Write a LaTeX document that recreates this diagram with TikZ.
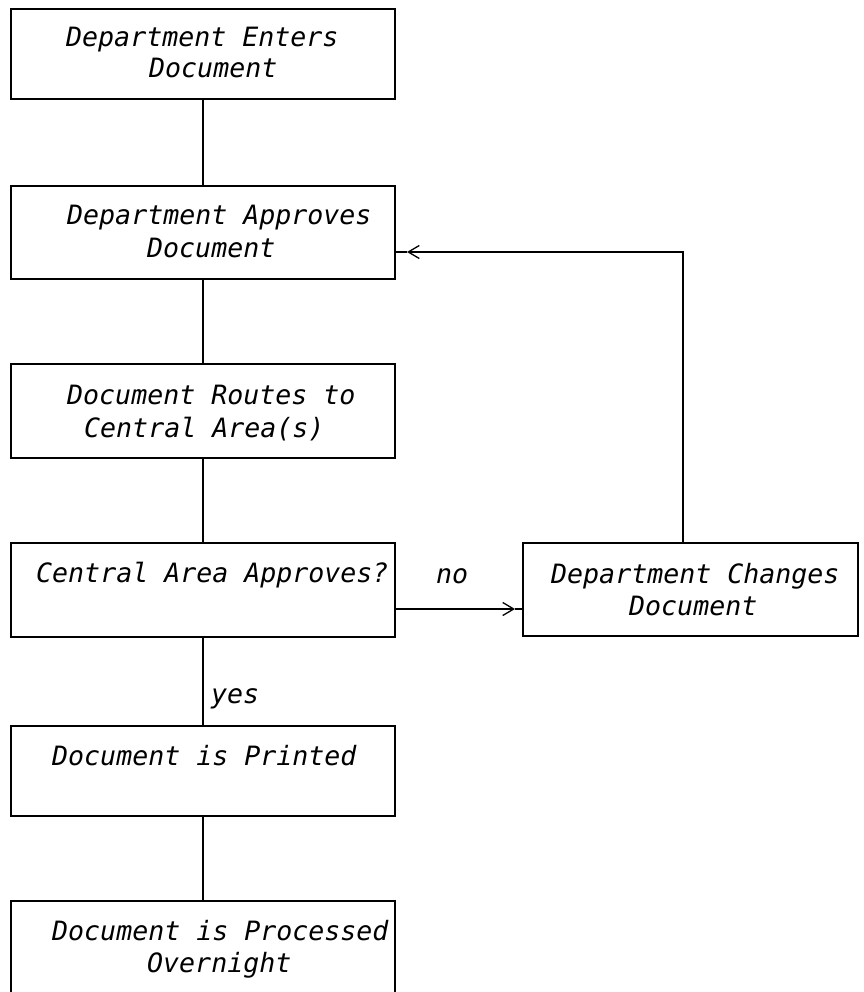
\documentclass[tikz,border=0pt]{standalone}
\usepackage{fontspec}
\newfontfamily\diagfont{DejaVu Sans Mono}
\usetikzlibrary{arrows.meta}
\begin{document}
\begin{tikzpicture}[x=1pt,y=-1pt,
  box/.style={draw, line width=2.4pt, inner sep=0pt, outer sep=0pt, minimum width=384pt},
  lbl/.style={anchor=base west, inner sep=0pt, font=\fontsize{26.6}{30}\diagfont\itshape},
  conn/.style={line width=2.4pt},
  tip/.style={-{Straight Barb[length=11pt,width=13pt,line width=1.3pt]}}]
\fill[white] (0,0) rectangle (863,992);
\useasboundingbox (0,0) rectangle (863,992);

% boxes
\node[box, minimum height=90pt] (b1) at (203,54) {};
\node[box, minimum height=93pt] (b2) at (203,232.5) {};
\node[box, minimum height=94pt] (b3) at (203,411) {};
\node[box, minimum height=94pt] (b4) at (203,590) {};
\node[box, minimum height=90pt] (b5) at (203,771) {};
\node[box, minimum height=96pt] (b6) at (203,949) {};
\node[box, minimum width=335pt, minimum height=93pt] (chg) at (690.5,589.5) {};

% texts
\node[lbl] (t1a) at (66,47) {Department Enters};
\node[lbl] (t1b) at (149,78) {Document};
\node[lbl] (t2a) at (67,225) {Department Approves};
\node[lbl] (t2b) at (147,258) {Document};
\node[lbl] (t3a) at (67,404) {Document Routes to};
\node[lbl] (t3b) at (84,437) {Central Area(s)};
\node[lbl] (t4a) at (36,582) {Central Area Approves?};
\node[lbl] (t5a) at (52,765) {Document is Printed};
\node[lbl] (t6a) at (52,940) {Document is Processed};
\node[lbl] (t6b) at (147,972) {Overnight};
\node[lbl] (tca) at (551,583) {Department Changes};
\node[lbl] (tcb) at (629,615) {Document};
\node[lbl] (no) at (436,583) {no};
\node[lbl] (yes) at (211,703) {yes};

% vertical flow
\draw[conn] (b1.south) -- (b2.north);
\draw[conn] (b2.south) -- (b3.north);
\draw[conn] (b3.south) -- (b4.north);
\draw[conn] (b4.south) -- (b5.north);
\draw[conn] (b5.south) -- (b6.north);

% no branch
\coordinate (ry) at (0,609);
\coordinate (tipR) at (515,609);
\draw[conn, tip] (b4.east |- ry) -- (tipR);
\draw[conn] (tipR) -- (chg.west |- ry);

% loop back
\coordinate (rx) at (683,0);
\coordinate (ly) at (0,252);
\coordinate (tipL) at (407,252);
\draw[conn, tip] (rx |- chg.north) -- (rx |- ly) -- (tipL);
\draw[conn] (tipL) -- (b2.east |- ly);
\end{tikzpicture}
\end{document}
